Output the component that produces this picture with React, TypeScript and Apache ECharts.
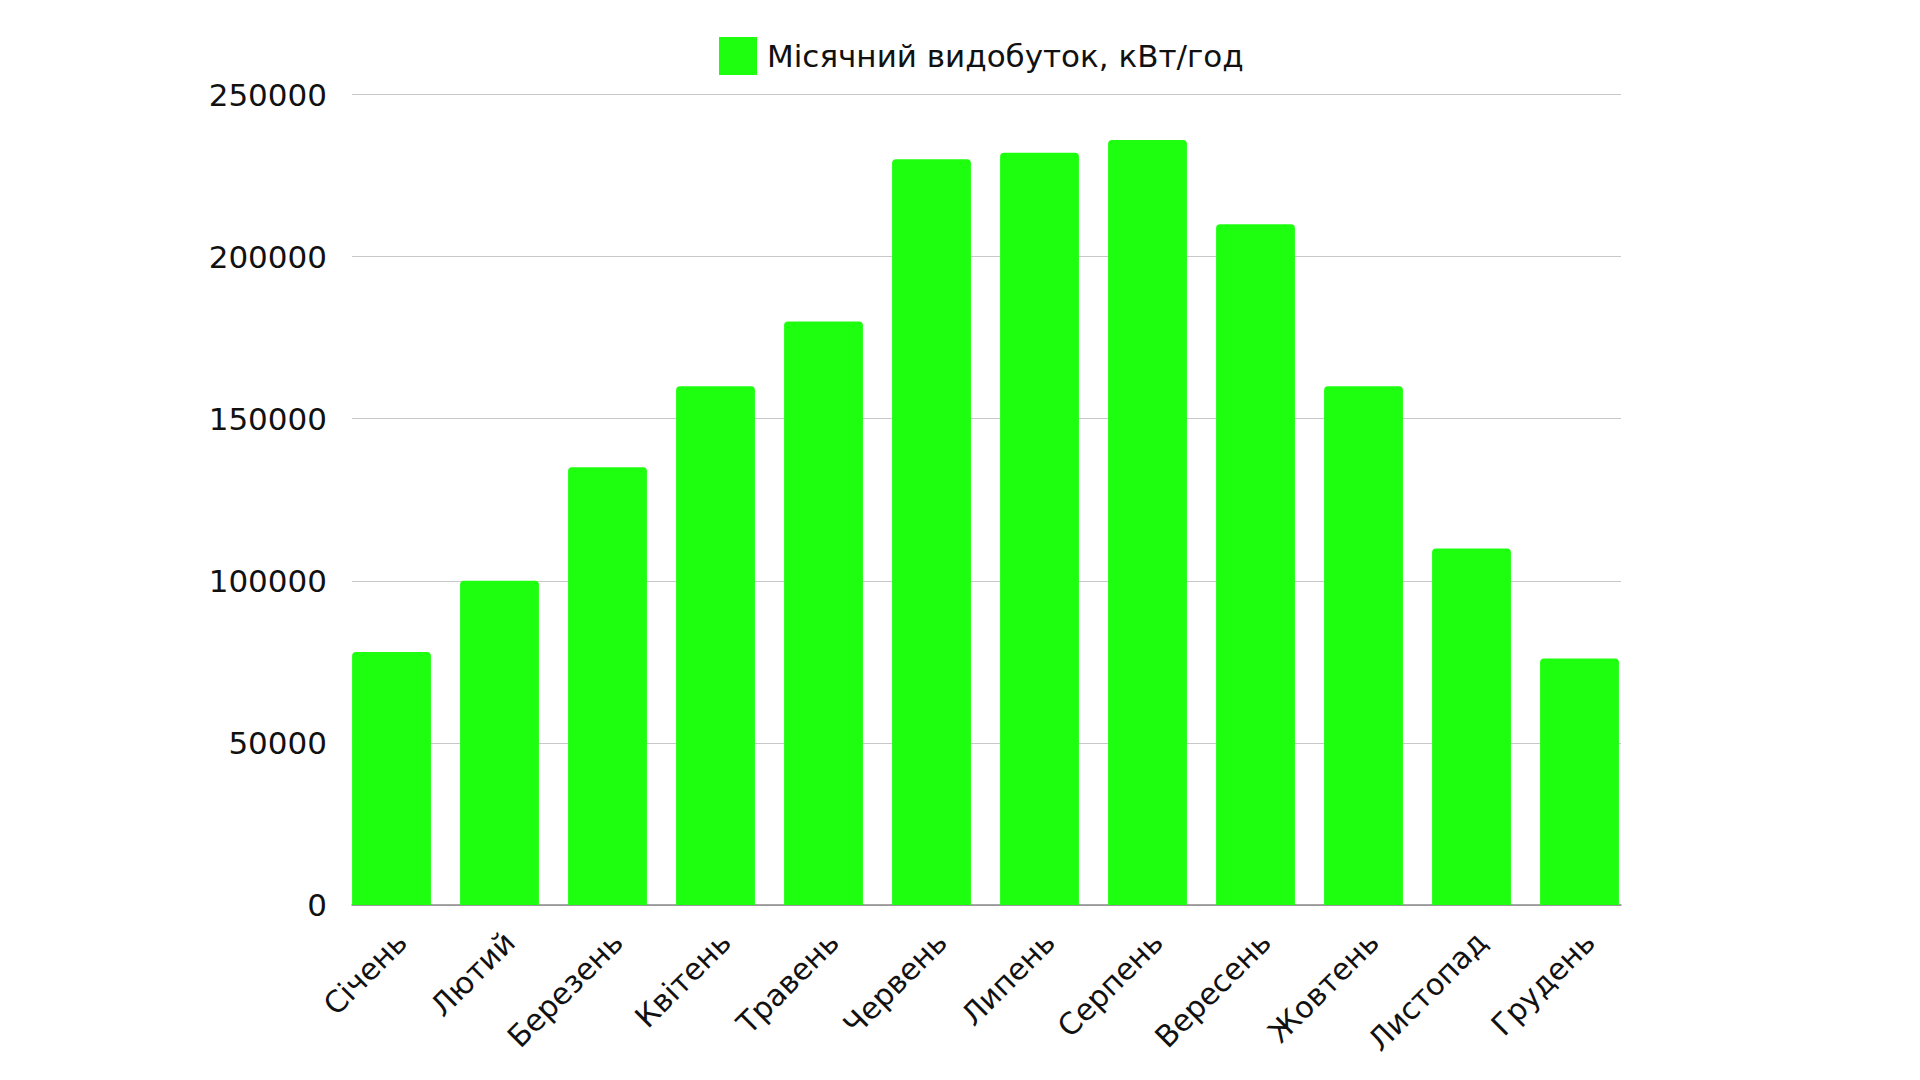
import React, { useEffect, useRef } from "react";
import * as echarts from "echarts";

const months = [
  "Січень", "Лютий", "Березень", "Квітень", "Травень", "Червень",
  "Липень", "Серпень", "Вересень", "Жовтень", "Листопад", "Грудень",
];
const production = [78000, 100000, 135000, 160000, 180000, 230000, 232000, 236000, 210000, 160000, 110000, 76000];
const seriesName = "Місячний видобуток, кВт/год";
const yMin = 0;
const yMax = 250000;
const yInterval = 50000;

const FONT = "DejaVu Sans";
const GREEN = "#1eff10";
const TEXT = "#111111";

export default function App() {
  const ref = useRef<HTMLDivElement>(null);
  useEffect(() => {
    document.body.style.margin = "0";
    const chart = echarts.init(ref.current!, null, { renderer: "svg" });
    chart.setOption({
      animation: false,
      backgroundColor: "#ffffff",
      textStyle: { fontFamily: FONT },
      legend: {
        data: [seriesName],
        left: 714,
        top: 32,
        itemWidth: 38,
        itemHeight: 38,
        icon: "rect",
        textStyle: { fontSize: 31, color: TEXT, fontFamily: FONT, padding: [0, 0, 0, 5] },
      },
      grid: [
        { left: 337.5, width: 1296, top: 94.5, bottom: 175, containLabel: false },
        { left: 352, right: 299, top: 94.5, bottom: 175, containLabel: false },
        { left: 347.5, width: 1296, top: 94.5, bottom: 175, containLabel: false },
      ],
      xAxis: [
        {
          type: "category",
          gridIndex: 0,
          data: months,
          axisLine: { show: false },
          axisTick: { show: false },
          axisLabel: { show: false },
        },
        {
          type: "category",
          gridIndex: 1,
          data: months,
          axisLine: { show: true, lineStyle: { color: "#8a8a8a", width: 1.5 } },
          axisTick: { show: false },
          axisLabel: { show: false },
        },
        {
          type: "category",
          gridIndex: 2,
          data: months,
          axisLine: { show: false },
          axisTick: { show: false },
          axisLabel: {
            rotate: 45,
            margin: 32,
            fontSize: 30,
            color: TEXT,
            fontFamily: FONT,
            interval: 0,
          },
        },
      ],
      yAxis: [
        { type: "value", gridIndex: 0, min: yMin, max: yMax, interval: yInterval, show: false },
        {
          type: "value",
          gridIndex: 1,
          min: yMin,
          max: yMax,
          interval: yInterval,
          axisLine: { show: false },
          axisTick: { show: false },
          axisLabel: {
            margin: 25,
            fontSize: 31,
            color: TEXT,
            fontFamily: FONT,
            formatter: (v: number) => String(v),
          },
          splitLine: { lineStyle: { color: "#c8c8c8", width: 1 } },
        },
        { type: "value", gridIndex: 2, min: yMin, max: yMax, interval: yInterval, show: false },
      ],
      series: [
        {
          name: seriesName,
          type: "bar",
          xAxisIndex: 0,
          yAxisIndex: 0,
          data: production,
          barCategoryGap: "27%",
          itemStyle: { color: GREEN, borderRadius: [4, 4, 0, 0] },
        },
      ],
    });
    return () => chart.dispose();
  }, []);
  return <div ref={ref} style={{ width: 1920, height: 1080 }} />;
}
